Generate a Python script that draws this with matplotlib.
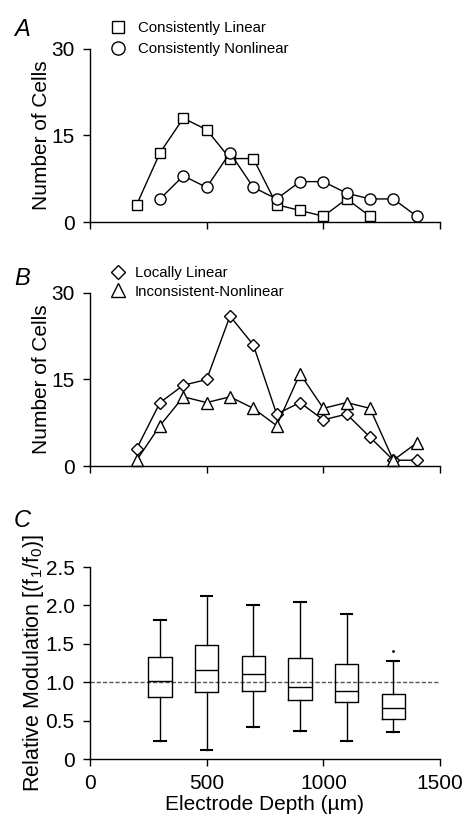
import matplotlib
matplotlib.use('Agg')
import matplotlib.pyplot as plt
from matplotlib.lines import Line2D
import numpy as np

plt.rcParams['font.family'] = ['Liberation Sans', 'DejaVu Sans']
plt.rcParams['mathtext.default'] = 'regular'

# electrode depths (um)
depth = [200, 300, 400, 500, 600, 700, 800, 900, 1000, 1100, 1200, 1300, 1400]

# panel A
cons_linear_depth = [200, 300, 400, 500, 600, 700, 800, 900, 1000, 1100, 1200]
cons_linear = [3, 12, 18, 16, 11, 11, 3, 2, 1, 4, 1]
cons_nonlin_depth = [300, 400, 500, 600, 700, 800, 900, 1000, 1100, 1200, 1300, 1400]
cons_nonlin = [4, 8, 6, 12, 6, 4, 7, 7, 5, 4, 4, 1]

# panel B
local_linear = [3, 11, 14, 15, 26, 21, 9, 11, 8, 9, 5, 1, 1]
incons_nonlin = [1, 7, 12, 11, 12, 10, 7, 16, 10, 11, 10, 1, 4]

# panel C boxplot summary
box_depth = [300, 500, 700, 900, 1100, 1300]
whis_lo = [0.23, 0.12, 0.42, 0.37, 0.24, 0.35]
q1 = [0.81, 0.87, 0.88, 0.77, 0.74, 0.52]
med = [1.02, 1.16, 1.11, 0.94, 0.88, 0.67]
q3 = [1.33, 1.48, 1.34, 1.31, 1.24, 0.84]
whis_hi = [1.81, 2.12, 2.01, 2.04, 1.89, 1.28]
outliers = [[], [], [], [], [], [1.41]]

fig = plt.figure(figsize=(4.64, 8.21), dpi=100)

W, H = 464.0, 821.0
def axes_px(left, right, top, bottom):
    return fig.add_axes([left / W, 1 - bottom / H, (right - left) / W, (bottom - top) / H])

axA = axes_px(90, 440, 49, 222)
axB = axes_px(90, 440, 293, 466)
axC = axes_px(90, 440, 567, 759)

mk = dict(color='black', lw=1.0, markerfacecolor='white', markeredgecolor='black',
          markeredgewidth=1.0, clip_on=False)

axA.plot(cons_linear_depth, cons_linear, marker='s', markersize=7.5, **mk)
axA.plot(cons_nonlin_depth, cons_nonlin, marker='o', markersize=8, **mk)

axB.plot(depth, local_linear, marker='D', markersize=6.5, **mk)
axB.plot(depth, incons_nonlin, marker='^', markersize=9, **mk)

stats = []
for i in range(len(box_depth)):
    stats.append(dict(whislo=whis_lo[i], q1=q1[i], med=med[i], q3=q3[i],
                      whishi=whis_hi[i], fliers=outliers[i]))
axC.bxp(stats, positions=box_depth, widths=100, capwidths=50, showfliers=True,
        boxprops=dict(color='black', lw=1.0),
        medianprops=dict(color='black', lw=1.0),
        whiskerprops=dict(color='black', lw=1.0),
        capprops=dict(color='black', lw=1.5),
        flierprops=dict(marker='.', markersize=2, markerfacecolor='black',
                        markeredgecolor='black'))
axC.axhline(1.0, color='#555555', lw=1.0, ls=(0, (3, 1.5)), zorder=0)

for ax in (axA, axB, axC):
    ax.set_xlim(0, 1500)
    ax.spines['top'].set_visible(False)
    ax.spines['right'].set_visible(False)
    ax.spines['left'].set_linewidth(1.0)
    ax.spines['bottom'].set_linewidth(1.0)
    ax.tick_params(direction='out', length=5, width=1.0, labelsize=15, pad=6)
    ax.set_xticks([0, 500, 1000, 1500])

for ax in (axA, axB):
    ax.set_ylim(0, 30)
    ax.set_yticks([0, 15, 30])
    ax.set_xticklabels([])
    ax.set_ylabel('Number of Cells', fontsize=15, labelpad=0)

axC.set_ylim(0, 2.5)
axC.set_yticks([0, 0.5, 1.0, 1.5, 2.0, 2.5])
axC.set_yticklabels(['0', '0.5', '1.0', '1.5', '2.0', '2.5'])
axC.set_xticklabels(['0', '500', '1000', '1500'])
axC.set_ylabel('Relative Modulation [(f$_1$/f$_0$)]', fontsize=15.5, labelpad=0)
axC.set_xlabel('Electrode Depth (\u00b5m)', fontsize=15, labelpad=1)

# legends
def handle(m, ms):
    return Line2D([], [], ls='none', marker=m, markersize=ms, markerfacecolor='white',
                  markeredgecolor='black', markeredgewidth=1.0)

axA.legend([handle('s', 9), handle('o', 9.5)], ['Consistently Linear', 'Consistently Nonlinear'],
           loc='upper left', bbox_to_anchor=(111 / W, 1 - 21 / H), bbox_transform=fig.transFigure,
           frameon=False, fontsize=10.8, handlelength=1.0, handletextpad=0.8,
           labelspacing=0.5, borderpad=0, borderaxespad=0)
axB.legend([handle('D', 7), handle('^', 10)], ['Locally Linear', 'Inconsistent-Nonlinear'],
           loc='upper left', bbox_to_anchor=(111 / W, 1 - 266 / H), bbox_transform=fig.transFigure,
           frameon=False, fontsize=10.8, handlelength=1.0, handletextpad=0.6,
           labelspacing=0.3, borderpad=0, borderaxespad=0)

# panel letters
for letter, y in (('A', 36), ('B', 285), ('C', 527)):
    fig.text(14 / W, 1 - y / H, letter, fontsize=17, style='italic', ha='left', va='baseline')

plt.savefig('out.png', dpi=100)
